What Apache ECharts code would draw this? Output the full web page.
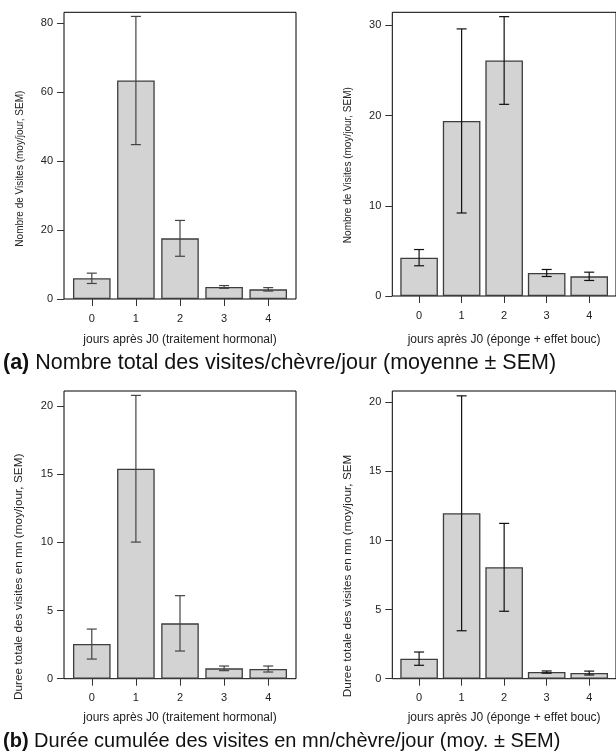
<!DOCTYPE html>
<html>
<head>
<meta charset="utf-8">
<script src="https://cdn.jsdelivr.net/npm/echarts@6/dist/echarts.min.js"></script>
<style>
html,body{margin:0;padding:0;background:#fff;}
#chart{width:616px;height:754px;}
</style>
</head>
<body>
<div id="chart"></div>
<script>
// ---- data ----
const jours = ['0', '1', '2', '3', '4'];

// (a) nombre de visites
const visitesHormonal = [6.0, 63.4, 17.6, 3.5, 2.8];
const visitesHormonalSem = [1.5, 18.6, 5.2, 0.4, 0.5];
const visitesEponge = [4.25, 19.4, 26.1, 2.55, 2.18];
const visitesEpongeSem = [0.9, 10.2, 4.86, 0.39, 0.46];

// (b) durée des visites (mn)
const dureeHormonal = [2.54, 15.4, 4.06, 0.76, 0.71];
const dureeHormonalSem = [1.1, 5.38, 2.03, 0.17, 0.22];
const dureeEponge = [1.45, 11.97, 8.06, 0.48, 0.41];
const dureeEpongeSem = [0.48, 8.5, 3.18, 0.08, 0.14];

// tick labels
const ticksVisitesHormonal = [0, 20, 40, 60, 80];
const ticksVisitesEponge = [0, 10, 20, 30];
const ticksDuree = [0, 5, 10, 15, 20];
const xTicks = [0, 1, 2, 3, 4];

// texts
const yNameVisites = 'Nombre de Visites (moy/jour, SEM)';
const yNameDureeL = 'Duree totale des visites en mn (moy/jour, SEM)';
const yNameDureeR = 'Duree totale des visites en mn (moy/jour, SEM';
const xNameHormonal = 'jours après J0 (traitement hormonal)';
const xNameEponge = 'jours après J0 (éponge + effet bouc)';

// ---- chart ----
const FONT = '"Liberation Sans", Arial, Helvetica, sans-serif';
const chart = echarts.init(document.getElementById('chart'), null, {renderer: 'canvas'});

const panels = [
  {grid: {left: 64, top: 12.3, width: 232, height: 286.7}, ymax: 83.2, ticks: ticksVisitesHormonal,
   mean: visitesHormonal, sem: visitesHormonalSem, yName: yNameVisites, yFont: 10, yShift: 13,
   xName: xNameHormonal, xGap: 35, errColor: '#444'},
  {grid: {left: 392.3, top: 12.3, width: 232, height: 283.7}, ymax: 31.44, ticks: ticksVisitesEponge,
   mean: visitesEponge, sem: visitesEpongeSem, yName: yNameVisites, yFont: 10, yShift: 11,
   xName: xNameEponge, xGap: 38, errColor: '#111'},
  {grid: {left: 64, top: 391, width: 232, height: 287.7}, ymax: 21.1, ticks: ticksDuree,
   mean: dureeHormonal, sem: dureeHormonalSem, yName: yNameDureeL, yFont: 11.8, yShift: 42,
   xName: xNameHormonal, xGap: 33, errColor: '#444'},
  {grid: {left: 392.3, top: 391, width: 232, height: 287.7}, ymax: 20.82, ticks: ticksDuree,
   mean: dureeEponge, sem: dureeEpongeSem, yName: yNameDureeR, yFont: 11.8, yShift: 41,
   xName: xNameEponge, xGap: 33, errColor: '#111'}
];

const grids = [], xAxes = [], yAxes = [], series = [];
panels.forEach((p, k) => {
  grids.push(Object.assign({show: true, borderColor: '#000', borderWidth: 1, backgroundColor: 'transparent'}, p.grid));
  xAxes.push({
    type: 'value', gridIndex: k, min: -0.63, max: 4.63,
    splitLine: {show: false},
    axisLine: {show: false, onZero: false},
    axisTick: {show: true, length: 7, lineStyle: {color: '#333', width: 1}, customValues: xTicks},
    axisLabel: {show: true, margin: 14, fontSize: 11, fontFamily: FONT, color: '#222',
      customValues: xTicks, formatter: v => jours[Math.round(v)] ?? ''},
    name: p.xName, nameLocation: 'middle', nameGap: p.xGap,
    nameTextStyle: {fontSize: 12, fontFamily: FONT, color: '#222'}
  });
  yAxes.push({
    type: 'value', gridIndex: k, min: 0, max: p.ymax,
    splitLine: {show: false},
    axisLine: {show: false, onZero: false},
    axisTick: {show: true, length: 7, lineStyle: {color: '#333', width: 1}, customValues: p.ticks},
    axisLabel: {show: true, margin: 11, fontSize: 11, fontFamily: FONT, color: '#222',
      customValues: p.ticks},
    name: p.yName, nameLocation: 'middle', nameGap: 39, nameRotate: 90,
    nameTextStyle: {fontSize: p.yFont, fontFamily: FONT, color: '#222', padding: [0, 2 * p.yShift, 0, 0]}
  });
  series.push({
    type: 'bar', xAxisIndex: k, yAxisIndex: k, barWidth: 37.6,
    data: p.mean.map((v, i) => [i, v]),
    itemStyle: {color: '#d3d3d3', borderColor: '#3d3d3d', borderWidth: 1.3},
    silent: true, animation: false
  });
  const col = p.errColor;
  series.push({
    type: 'custom', xAxisIndex: k, yAxisIndex: k, silent: true, animation: false,
    encode: {x: 0, y: [1, 2]},
    data: p.mean.map((v, i) => [i, v - p.sem[i], v + p.sem[i]]),
    renderItem: function (params, api) {
      const x = api.value(0);
      const hi = api.coord([x, api.value(2)]);
      const lo = api.coord([x, api.value(1)]);
      const hw = 5;
      const st = {stroke: col, lineWidth: 1.2};
      return {type: 'group', children: [
        {type: 'line', shape: {x1: hi[0], y1: hi[1], x2: lo[0], y2: lo[1]}, style: st},
        {type: 'line', shape: {x1: hi[0] - hw, y1: hi[1], x2: hi[0] + hw, y2: hi[1]}, style: st},
        {type: 'line', shape: {x1: lo[0] - hw, y1: lo[1], x2: lo[0] + hw, y2: lo[1]}, style: st}
      ]};
    },
    z: 5
  });
});

const option = {
  backgroundColor: '#fff',
  animation: false,
  title: [
    {text: '{b|(a)} Nombre total des visites/chèvre/jour (moyenne ± SEM)', left: 3, top: 352, padding: 0,
     textStyle: {fontSize: 21.5, fontWeight: 'normal', fontFamily: FONT, color: '#111',
       rich: {b: {fontSize: 21.5, fontWeight: 'bold', fontFamily: FONT, color: '#111'}}}},
    {text: '{b|(b)} Durée cumulée des visites en mn/chèvre/jour (moy. ± SEM)', left: 3, top: 731, padding: 0,
     textStyle: {fontSize: 20, fontWeight: 'normal', fontFamily: FONT, color: '#111',
       rich: {b: {fontSize: 20, fontWeight: 'bold', fontFamily: FONT, color: '#111'}}}}
  ],
  grid: grids,
  xAxis: xAxes,
  yAxis: yAxes,
  series: series
};
chart.setOption(option);
</script>
</body>
</html>
